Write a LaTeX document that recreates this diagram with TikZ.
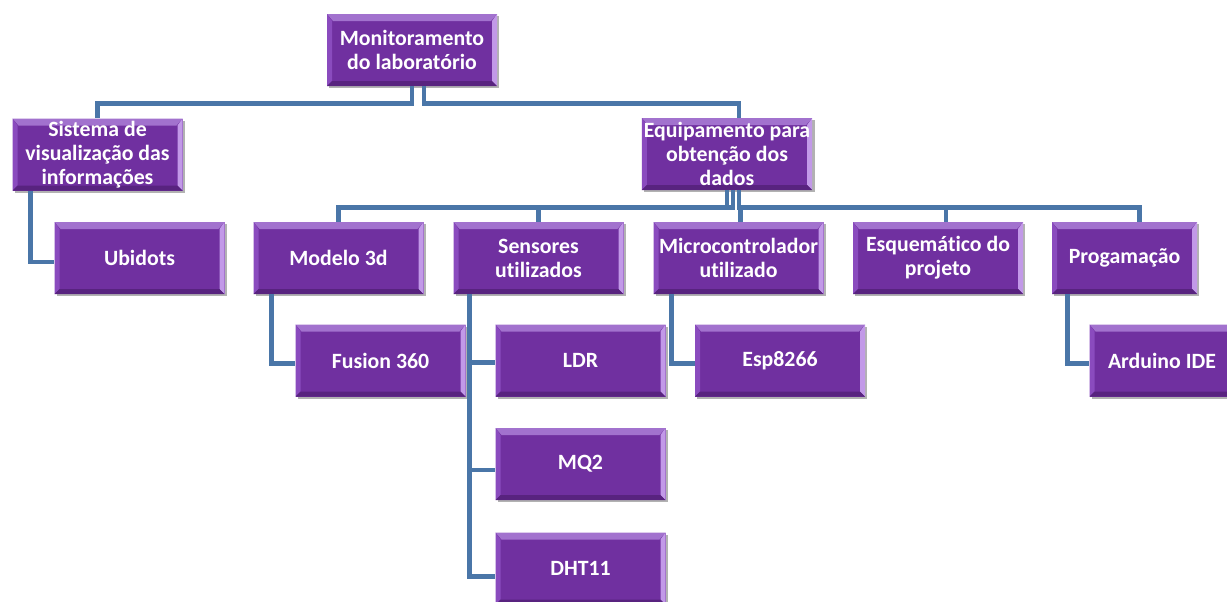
\documentclass[tikz,border=0pt]{standalone}
\usepackage{fontspec}
\setmainfont{Carlito}[Ligatures=NoCommon]
\usetikzlibrary{calc,shadows}
\definecolor{boxc}{HTML}{7030A0}
\definecolor{bvtop}{HTML}{A272CE}
\definecolor{bvleft}{HTML}{8A4BBE}
\definecolor{bvright}{HTML}{C299E8}
\definecolor{bvbot}{HTML}{58237F}
\definecolor{linec}{HTML}{4A76A8}
\tikzset{
  box/.style={rectangle, fill=boxc, minimum width=85pt, minimum height=36pt,
    inner sep=1pt, align=center, text=white,
    font=\bfseries\fontsize{10.9}{12}\selectfont,
    drop shadow={shadow xshift=1.2pt, shadow yshift=-1.2pt, opacity=0.3, fill=black},
    path picture={
      \coordinate (pA) at (path picture bounding box.north west);
      \coordinate (pB) at (path picture bounding box.north east);
      \coordinate (pC) at (path picture bounding box.south east);
      \coordinate (pD) at (path picture bounding box.south west);
      \fill[bvtop] (pA) -- (pB) -- ([shift={(-3pt,-3.5pt)}]pB) -- ([shift={(3pt,-3.5pt)}]pA) -- cycle;
      \fill[bvleft] (pA) -- (pD) -- ([shift={(2.5pt,2.5pt)}]pD) -- ([shift={(2.5pt,-3.5pt)}]pA) -- cycle;
      \fill[bvright] (pB) -- (pC) -- ([shift={(-2.5pt,2.5pt)}]pC) -- ([shift={(-2.5pt,-3.5pt)}]pB) -- cycle;
      \fill[bvbot] (pD) -- (pC) -- ([shift={(-2.5pt,2.5pt)}]pC) -- ([shift={(2.5pt,2.5pt)}]pD) -- cycle;
    }},
  narrowbox/.style={box, minimum width=72.5pt},
  conn/.style={draw=linec, line width=2.4pt}
}
\begin{document}
\begin{tikzpicture}[x=0.5pt, y=-0.5pt]
\useasboundingbox (0,0) rectangle (1227,601);
\clip (0,0) rectangle (1227,601);
\fill[white] (0,0) rectangle (1227,601);

% boxes
\node[box] (root) at (412,50) {Monitoramento\\do laboratório};
\node[box] (sis) at (97.5,154.5) {Sistema de\\visualização das\\informações};
\node[box] (equ) at (727,154) {Equipamento para\\obtenção dos\\dados};
\node[box] (ubi) at (139.5,258) {Ubidots};
\node[box] (mod) at (338.5,258) {Modelo 3d};
\node[box] (sen) at (538.5,258) {Sensores\\utilizados};
\node[box] (mic) at (738.5,258) {Microcontrolador\\utilizado};
\node[box] (esq) at (938,258) {Esquemático do\\projeto};
\node[narrowbox] (prg) at (1124.5,258) {Progamação};
\node[box] (fus) at (380.5,360.5) {Fusion 360};
\node[box] (ldr) at (580.5,360.5) {LDR};
\node[box] (esp) at (780,360.5) {Esp8266};
\node[narrowbox] (ard) at (1162,360.5) {Arduino IDE};
\node[box] (mq2) at (580.5,464) {MQ2};
\node[box] (dht) at (580.5,568.5) {DHT11};

% connectors
\draw[conn] (root.south) -- ++(0,17) -| (sis.north);
\draw[conn] ($(root.south)+(12,0)$) -- ++(0,17) -| ($(equ.north)+(12,0)$);
\draw[conn] (equ.south) -- ++(0,17) -| (mod.north);
\draw[conn] ($(equ.south)+(6,0)$) -- ++(0,17) -| (sen.north);
\draw[conn] ($(equ.south)+(12,0)$) -- ++(0,17) -| ($(mic.north)+(2,0)$);
\draw[conn] ($(equ.south)+(12,0)$) -- ++(0,17) -| ($(esq.north)+(8,0)$);
\draw[conn] ($(equ.south)+(12,0)$) -- ++(0,17) -| ($(prg.north)+(15,0)$);
\draw[conn] ($(sis.south west)+(18,0)$) |- ($(ubi.west)+(0,4)$);
\draw[conn] ($(mod.south west)+(18,0)$) |- ($(fus.west)+(0,3)$);
\draw[conn] ($(sen.south west)+(16,0)$) |- ($(ldr.west)+(0,2)$);
\draw[conn] ($(sen.south west)+(16,0)$) |- ($(mq2.west)+(0,6)$);
\draw[conn] ($(sen.south west)+(16,0)$) |- ($(dht.west)+(0,8)$);
\draw[conn] ($(mic.south west)+(18,0)$) |- ($(esp.west)+(0,3)$);
\draw[conn] ($(prg.south west)+(16,0)$) |- ($(ard.west)+(0,3)$);
\end{tikzpicture}
\end{document}
